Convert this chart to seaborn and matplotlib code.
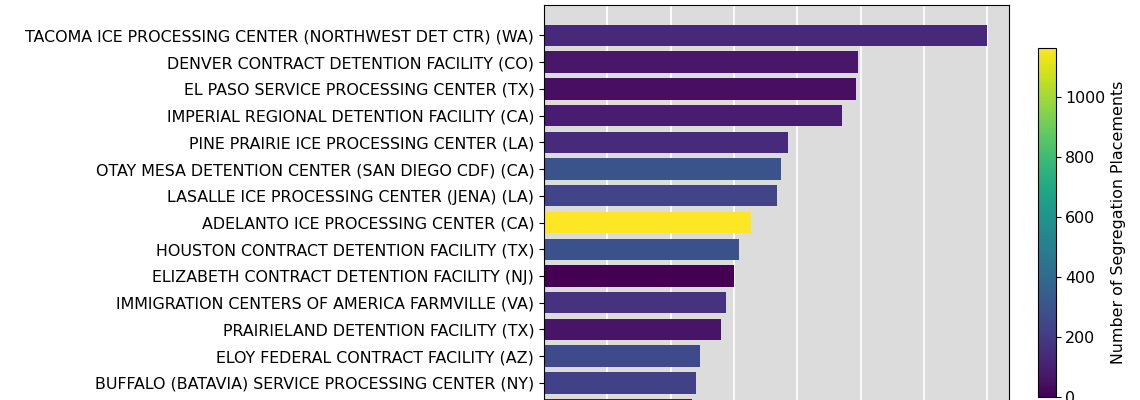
import numpy as np
import pandas as pd
import seaborn as sns
import matplotlib
matplotlib.use('Agg')
import matplotlib.pyplot as plt
from matplotlib.ticker import MultipleLocator

facilities = ['TACOMA ICE PROCESSING CENTER (NORTHWEST DET CTR) (WA)',
              'DENVER CONTRACT DETENTION FACILITY (CO)',
              'EL PASO SERVICE PROCESSING CENTER (TX)',
              'IMPERIAL REGIONAL DETENTION FACILITY (CA)',
              'PINE PRAIRIE ICE PROCESSING CENTER (LA)',
              'OTAY MESA DETENTION CENTER (SAN DIEGO CDF) (CA)',
              'LASALLE ICE PROCESSING CENTER (JENA) (LA)',
              'ADELANTO ICE PROCESSING CENTER (CA)',
              'HOUSTON CONTRACT DETENTION FACILITY (TX)',
              'ELIZABETH CONTRACT DETENTION FACILITY (NJ)',
              'IMMIGRATION CENTERS OF AMERICA FARMVILLE (VA)',
              'PRAIRIELAND DETENTION FACILITY (TX)',
              'ELOY FEDERAL CONTRACT FACILITY (AZ)',
              'BUFFALO (BATAVIA) SERVICE PROCESSING CENTER (NY)',
              'OTHER FACILITY']
bar_values = [699, 496, 492, 470, 385, 374, 368, 326, 308, 300, 288, 279, 247, 240, 234]
seg_placements = [130, 70, 45, 90, 140, 300, 235, 1165, 290, 0, 165, 60, 260, 220, 70]

df = pd.DataFrame({'Facility': facilities, 'Value': bar_values, 'Segregation': seg_placements})

vmin, vmax = 0, max(seg_placements)
norm = matplotlib.colors.Normalize(vmin=vmin, vmax=vmax)
cmap = plt.get_cmap('viridis')
colors = [cmap(norm(v)) for v in df['Segregation']]

fs = 11.4
plt.rcParams['font.size'] = fs
fig = plt.figure(figsize=(11.4, 4), dpi=100)
ax = fig.add_axes([544 / 1140, -40 / 400, 465 / 1140, 435 / 400])
ax.set_facecolor('#dcdcdc')
ax.set_axisbelow(True)
ax.grid(color='white', linewidth=1.2)

sns.barplot(data=df, x='Value', y='Facility', hue='Facility', palette=colors,
            legend=False, saturation=1, width=0.8, ax=ax)
n = len(df)
ax.set_ylim(n - 1 + 1.14, -1.14)
ax.set_xlim(0, max(bar_values) * 1.05)
ax.xaxis.set_major_locator(MultipleLocator(100))
# x tick labels and the last bar's label fall below the visible area
ax.tick_params(axis='x', labelbottom=False)
ax.set_yticks(range(n), facilities[:-1] + [''])
ax.set_xlabel('')
ax.set_ylabel('')
ax.tick_params(axis='y', labelsize=fs)

cax = fig.add_axes([1038 / 1140, 3 / 400, 17.5 / 1140, 349 / 400])
sm = matplotlib.cm.ScalarMappable(norm=norm, cmap=cmap)
cbar = fig.colorbar(sm, cax=cax)
cbar.set_ticks([0, 200, 400, 600, 800, 1000])
cbar.ax.tick_params(labelsize=fs)
cbar.set_label('Number of Segregation Placements', fontsize=fs)

plt.savefig('out.png', dpi=100)
